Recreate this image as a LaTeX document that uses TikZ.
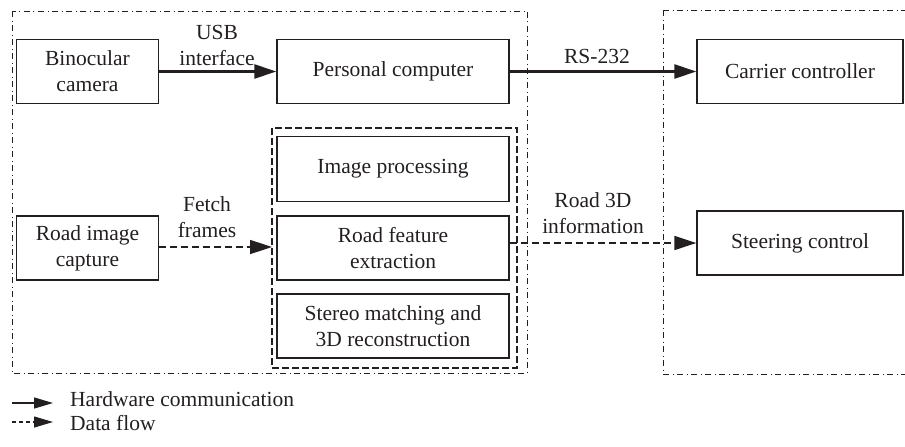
\documentclass[tikz,border=0pt]{standalone}
\usepackage{fontspec}
\setmainfont{Liberation Serif}
\usetikzlibrary{arrows.meta}
\definecolor{ink}{HTML}{231F20}
\begin{document}
\begin{tikzpicture}[x=1pt,y=-1pt,
  every node/.style={text=ink,font=\fontsize{21.5}{26}\selectfont},
  blk/.style={draw=ink,line width=1.3pt,align=center,inner sep=0pt},
  hw/.style={draw=ink,line width=2.2pt,-{Triangle[length=22pt,width=14pt]}},
  df/.style={draw=ink,line width=1.6pt,dash pattern=on 7pt off 4pt,-{Triangle[length=22pt,width=14pt]}},
  grp/.style={draw=ink,line width=1pt,dash pattern=on 6pt off 3.5pt on 1pt off 3.5pt},
  inner/.style={draw=ink,line width=1.2pt,dash pattern=on 7pt off 3pt},
  lbl/.style={align=center,inner sep=0pt}]
\useasboundingbox (0,0) rectangle (905,447);

% dash-dot group frames (the right one runs past the page edge)
\draw[grp] (12,11) rectangle (527,373);
\draw[grp] (663,10) -- (940,10);
\draw[grp] (663,10) -- (663,374) -- (940,374);
% dashed frame round the processing stages
\draw[inner] (272,128) rectangle (517,368);
\coordinate (innerW) at (272,247);

% blocks
\node[blk,minimum width=142pt,minimum height=64pt] (bin) at (87.5,71.5) {Binocular\\camera};
\node[blk,minimum width=232pt,minimum height=64pt] (pc) at (393,71.5) {Personal computer};
\node[blk,minimum width=206pt,minimum height=64pt] (car) at (800,71.5) {Carrier controller};
\node[blk,minimum width=232pt,minimum height=65pt] (img) at (393,169) {Image processing};
\node[blk,minimum width=232pt,minimum height=64pt] (feat) at (393,248) {Road feature\\extraction};
\node[blk,minimum width=232pt,minimum height=64pt] (stereo) at (393,326) {Stereo matching and\\3D reconstruction};
\node[blk,minimum width=142pt,minimum height=64pt] (cap) at (87.5,248) {Road image\\capture};
\node[blk,minimum width=206pt,minimum height=64pt] (steer) at (800,243) {Steering control};

% connectors
\draw[hw] (bin.east) -- (pc.west);
\draw[hw] (pc.east) -- (car.west);
\draw[df] (cap.east |- innerW) -- (innerW);
\draw[df] (feat.east |- steer.west) -- (steer.west);

% connector labels
\node[lbl] (usb) at (217,45) {USB\\interface};
\node[lbl] (rs) at (597,56) {RS-232};
\node[lbl] (fetch) at (207,217) {Fetch\\frames};
\node[lbl] (r3d) at (593,213) {Road 3D\\information};

% legend
\coordinate (l1a) at (12,403);
\coordinate (l1b) at (53,403);
\coordinate (l2a) at (12,422);
\coordinate (l2b) at (53,422);
\draw[hw,line width=1.3pt,-{Triangle[length=19pt,width=11pt]}] (l1a) -- (l1b);
\draw[df,line width=1.1pt,dash pattern=on 4pt off 3pt,-{Triangle[length=19pt,width=11pt]}] (l2a) -- (l2b);
\node[lbl,anchor=west] (lg1) at (70,399) {Hardware communication};
\node[lbl,anchor=west] (lg2) at (70,423) {Data flow};
\end{tikzpicture}
\end{document}
